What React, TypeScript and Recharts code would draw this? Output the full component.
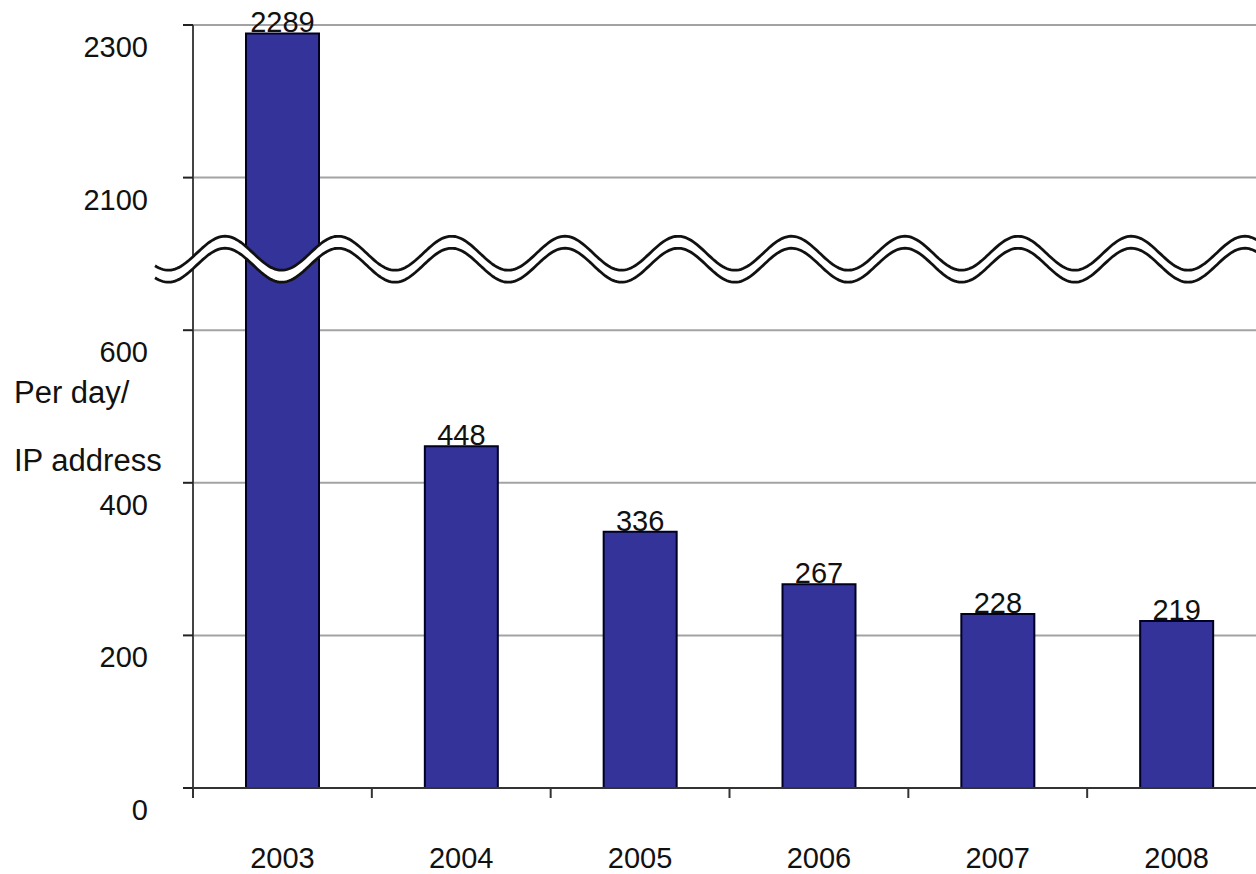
import React from "react";
import {
  BarChart,
  Bar,
  XAxis,
  YAxis,
  CartesianGrid,
  ReferenceArea,
  LabelList,
} from "recharts";

const years = ["2003", "2004", "2005", "2006", "2007", "2008"];
const counts = [2289, 448, 336, 267, 228, 219];
const yTickLabels = [0, 200, 400, 600, 2100, 2300];

// broken axis: everything between 600 and 2100 is squeezed into one 200 step
const BREAK_LOW = 600;
const BREAK_HIGH = 2100;
const GAP = BREAK_HIGH - BREAK_LOW - 200;

const toAxis = (v: number) => (v >= BREAK_HIGH ? v - GAP : v);
const fromAxis = (v: number) => (v > BREAK_LOW ? v + GAP : v);

const data = years.map((year, i) => ({
  year,
  value: toAxis(counts[i]),
  label: counts[i],
}));

const FONT = "'Liberation Sans', Arial, sans-serif";
const TEXT_COLOR = "#111";

function YTick({ x, y, payload }: any) {
  return (
    <text
      x={x}
      y={y + 22}
      textAnchor="end"
      dominantBaseline="central"
      fontSize={29}
      fontFamily={FONT}
      fill={TEXT_COLOR}
    >
      {fromAxis(payload.value)}
    </text>
  );
}

// category label plus a tick mark on the left edge of each band
function XTick({ x, y, payload, index, visibleTicksCount }: any) {
  const half = payload.offset || 0;
  const isLast = index === visibleTicksCount - 1;
  return (
    <g>
      <line x1={x - half} x2={x - half} y1={y} y2={y + 10} stroke="#333" strokeWidth={2} />
      {isLast && (
        <line x1={x + half} x2={x + half} y1={y} y2={y + 10} stroke="#333" strokeWidth={2} />
      )}
      <text
        x={x}
        y={y + 70}
        textAnchor="middle"
        dominantBaseline="central"
        fontSize={29}
        fontFamily={FONT}
        fill={TEXT_COLOR}
      >
        {payload.value}
      </text>
    </g>
  );
}

function BarValue({ x, y, width, value }: any) {
  return (
    <text
      x={x + width / 2}
      y={y - 1}
      textAnchor="middle"
      fontSize={29}
      fontFamily={FONT}
      fill={TEXT_COLOR}
    >
      {value}
    </text>
  );
}

function YLabel({ viewBox }: any) {
  const { x, y } = viewBox;
  return (
    <g fontSize={31} fontFamily={FONT} fill={TEXT_COLOR}>
      <text x={x + 14} y={y + 367} dominantBaseline="central">
        Per day/
      </text>
      <text x={x + 14} y={y + 435} dominantBaseline="central">
        IP address
      </text>
    </g>
  );
}

// double wavy line that marks the axis break
function BreakWave({ x, y, width, height }: any) {
  const cy = y + height / 2;
  const start = x - 38;
  const end = x + width + 40;
  const period = 113.3;
  const crestAt = x + 32;
  const amp = 17;
  const upper: [number, number][] = [];
  const lower: [number, number][] = [];
  for (let px = start; px <= end; px += 2) {
    const c = Math.cos(((px - crestAt) / period) * Math.PI * 2);
    upper.push([px, cy - 6 - amp * c]);
    lower.push([px, cy + 6 - amp * c]);
  }
  const line = (pts: [number, number][]) =>
    pts.map((p, i) => `${i ? "L" : "M"}${p[0].toFixed(1)},${p[1].toFixed(1)}`).join(" ");
  const band =
    line(upper) +
    " " +
    lower
      .slice()
      .reverse()
      .map((p) => `L${p[0].toFixed(1)},${p[1].toFixed(1)}`)
      .join(" ") +
    " Z";
  return (
    <g>
      <path d={band} fill="#fff" stroke="none" />
      <path d={line(upper)} fill="none" stroke="#111" strokeWidth={2.8} />
      <path d={line(lower)} fill="none" stroke="#111" strokeWidth={2.8} />
    </g>
  );
}

export default function App() {
  return (
    <div
      style={{
        position: "fixed",
        left: 0,
        top: 0,
        width: 1256,
        height: 874,
        overflow: "hidden",
        background: "#fff",
      }}
    >
      <BarChart
        width={1280}
        height={874}
        data={data}
        margin={{ top: 25, right: 14, bottom: 0, left: 0 }}
      >
        <CartesianGrid vertical={false} stroke="#a3a3a3" strokeWidth={2} />
        <XAxis
          dataKey="year"
          height={86}
          tickLine={false}
          tickSize={0}
          tickMargin={0}
          axisLine={{ stroke: "#333", strokeWidth: 2 }}
          tick={<XTick />}
        />
        <YAxis
          width={193}
          domain={[0, 1000]}
          ticks={yTickLabels.map(toAxis)}
          tickSize={10}
          tickMargin={35}
          tickLine={{ stroke: "#222", strokeWidth: 2 }}
          axisLine={{ stroke: "#444", strokeWidth: 2 }}
          tick={<YTick />}
          label={{ content: <YLabel /> } as any}
        />
        <Bar
          dataKey="value"
          fill="#333399"
          stroke="#000022"
          strokeWidth={2}
          barSize={73}
          isAnimationActive={false}
        >
          <LabelList dataKey="label" content={<BarValue />} />
        </Bar>
        <ReferenceArea
          y1={653}
          y2={733}
          ifOverflow="visible"
          zIndex={1000}
          shape={<BreakWave />}
        />
      </BarChart>
    </div>
  );
}
